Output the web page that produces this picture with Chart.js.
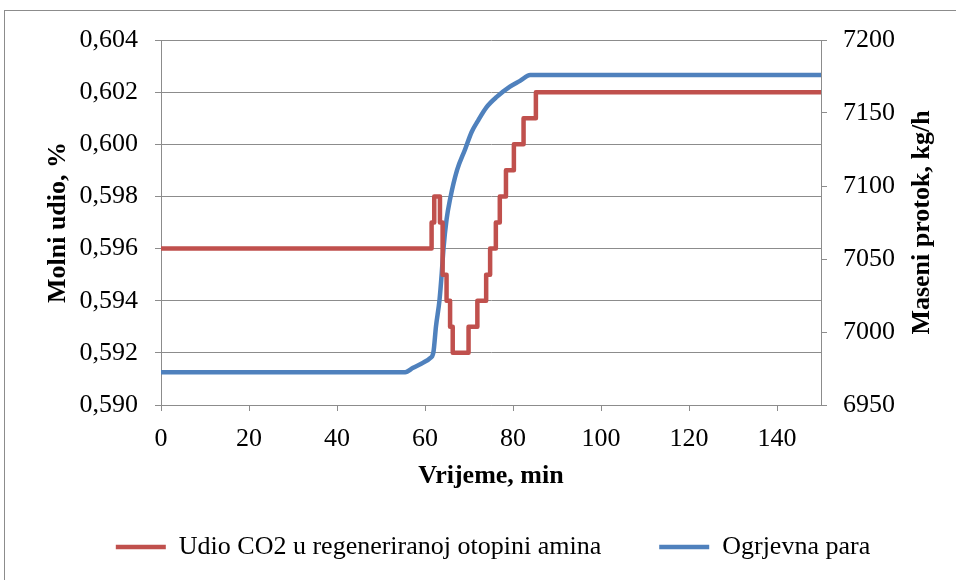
<!DOCTYPE html>
<html>
<head>
<meta charset="utf-8">
<script src="https://cdn.jsdelivr.net/npm/chart.js@4/dist/chart.umd.min.js"></script>
<style>
  html, body { margin: 0; padding: 0; background: #fff; }
  canvas { display: block; }
</style>
</head>
<body>
<canvas id="c" width="956" height="580"></canvas>
<script>
// ---- Data ----
const seriesNames = ['Udio CO2 u regeneriranoj otopini amina', 'Ogrjevna para'];
const axisTitles = { x: 'Vrijeme, min', yLeft: 'Molni udio, %', yRight: 'Maseni protok, kg/h' };

// Red series: change points (value holds from that time onward)
const co2Time  = [0, 61.5, 62.1, 63.4, 64.0, 64.9, 65.7, 66.3, 69.9, 71.9, 73.9, 74.8, 76.1, 77.0, 78.4, 80.2, 82.4, 85.2, 150];
const co2Value = [0.596, 0.597, 0.598, 0.597, 0.595, 0.594, 0.593, 0.592, 0.593, 0.594, 0.595, 0.596, 0.597, 0.598, 0.599, 0.600, 0.601, 0.602, 0.602];

// Blue series: heating steam mass flow
const steamTime  = [0, 55.5, 57.3, 59.6, 61.1, 61.9, 62.5, 63.3, 63.8, 64.2, 64.9, 65.7, 67.3, 69.1, 70.6, 72.1, 74.0, 76.3, 79.3, 81.6, 83.9, 150];
const steamValue = [6972.5, 6972.5, 6975.5, 6979, 6982, 6986, 7004, 7022, 7040, 7057, 7077, 7091, 7111, 7125, 7137, 7145, 7154, 7161, 7168, 7172, 7176, 7176];

const xTicks = { min: 0, max: 150, step: 20 };
const yLeftTicks = { min: 0.590, max: 0.604, step: 0.002 };
const yRightTicks = { min: 6950, max: 7200, step: 50 };

// ---- Chart ----
const FONT = "'Liberation Serif', 'Times New Roman', serif";
Chart.defaults.font.family = FONT;
Chart.defaults.font.size = 26;
Chart.defaults.color = '#000';

const GRID = '#8c8c8c';
const RED = '#C0504D';
const BLUE = '#4F81BD';

const frame = {
  id: 'frame',
  beforeDraw(chart) {
    const ctx = chart.ctx;
    ctx.save();
    ctx.fillStyle = '#fff';
    ctx.fillRect(0, 0, chart.width, chart.height);
    ctx.strokeStyle = GRID;
    ctx.lineWidth = 1;
    ctx.strokeRect(4.5, 10.5, 1000, 1000);
    ctx.restore();
  }
};

// Right axis title, read bottom-to-top like the left one
const rightTitle = {
  id: 'rightTitle',
  afterDraw(chart) {
    const ctx = chart.ctx;
    const s = chart.scales.y1;
    const area = chart.chartArea;
    ctx.save();
    ctx.translate(s.right - 34, (area.top + area.bottom) / 2);
    ctx.rotate(-Math.PI / 2);
    ctx.font = 'bold 26px ' + FONT;
    ctx.fillStyle = '#000';
    ctx.textAlign = 'center';
    ctx.textBaseline = 'middle';
    ctx.fillText(axisTitles.yRight, 0, 0);
    ctx.restore();
  }
};

new Chart(document.getElementById('c'), {
  type: 'line',
  data: {
    datasets: [
      {
        label: seriesNames[0],
        data: co2Time.map((t, i) => ({ x: t, y: co2Value[i] })),
        borderColor: RED,
        backgroundColor: RED,
        borderWidth: 4.5,
        borderCapStyle: 'round',
        borderJoinStyle: 'round',
        pointRadius: 0,
        stepped: 'before',
        yAxisID: 'y'
      },
      {
        label: seriesNames[1],
        data: steamTime.map((t, i) => ({ x: t, y: steamValue[i] })),
        borderColor: BLUE,
        backgroundColor: BLUE,
        borderWidth: 4.5,
        borderCapStyle: 'round',
        borderJoinStyle: 'round',
        pointRadius: 0,
        cubicInterpolationMode: 'monotone',
        yAxisID: 'y1'
      }
    ]
  },
  options: {
    responsive: false,
    animation: false,
    devicePixelRatio: 1,
    layout: { padding: { top: 40, left: 30, right: 0, bottom: 10 } },
    plugins: {
      tooltip: { enabled: false },
      legend: {
        position: 'bottom',
        labels: {
          usePointStyle: true,
          pointStyle: 'line',
          pointStyleWidth: 50,
          padding: 58,
          color: '#000',
          font: { size: 26 }
        }
      }
    },
    scales: {
      x: {
        type: 'linear',
        position: 'bottom',
        min: xTicks.min,
        max: xTicks.max,
        ticks: { stepSize: xTicks.step, includeBounds: false, padding: 13, color: '#000' },
        grid: { drawOnChartArea: false, drawTicks: true, tickLength: 6, color: GRID },
        border: { color: GRID },
        title: { display: true, text: axisTitles.x, color: '#000', font: { weight: 'bold', size: 26 }, padding: { top: 0, bottom: -15.6 } },
        afterFit(s) { s.height = 71; }
      },
      y: {
        type: 'linear',
        position: 'left',
        min: yLeftTicks.min,
        max: yLeftTicks.max,
        ticks: {
          stepSize: yLeftTicks.step,
          padding: 17,
          color: '#000',
          callback: v => v.toFixed(3).replace('.', ',')
        },
        grid: { color: GRID, tickLength: 6, drawOnChartArea: true },
        border: { color: GRID },
        title: { display: true, text: axisTitles.yLeft, color: '#000', font: { weight: 'bold', size: 26 }, padding: { top: 12.4, bottom: 0 } },
        afterFit(s) { s.width = 131; }
      },
      y1: {
        type: 'linear',
        position: 'right',
        min: yRightTicks.min,
        max: yRightTicks.max,
        ticks: { stepSize: yRightTicks.step, padding: 16, color: '#000', callback: v => String(Math.round(v)) },
        grid: { drawOnChartArea: false, tickLength: 6, color: GRID },
        border: { color: GRID },
        title: { display: false },
        afterFit(s) { s.width = 135; }
      }
    }
  },
  plugins: [frame, rightTitle]
});
</script>
</body>
</html>
